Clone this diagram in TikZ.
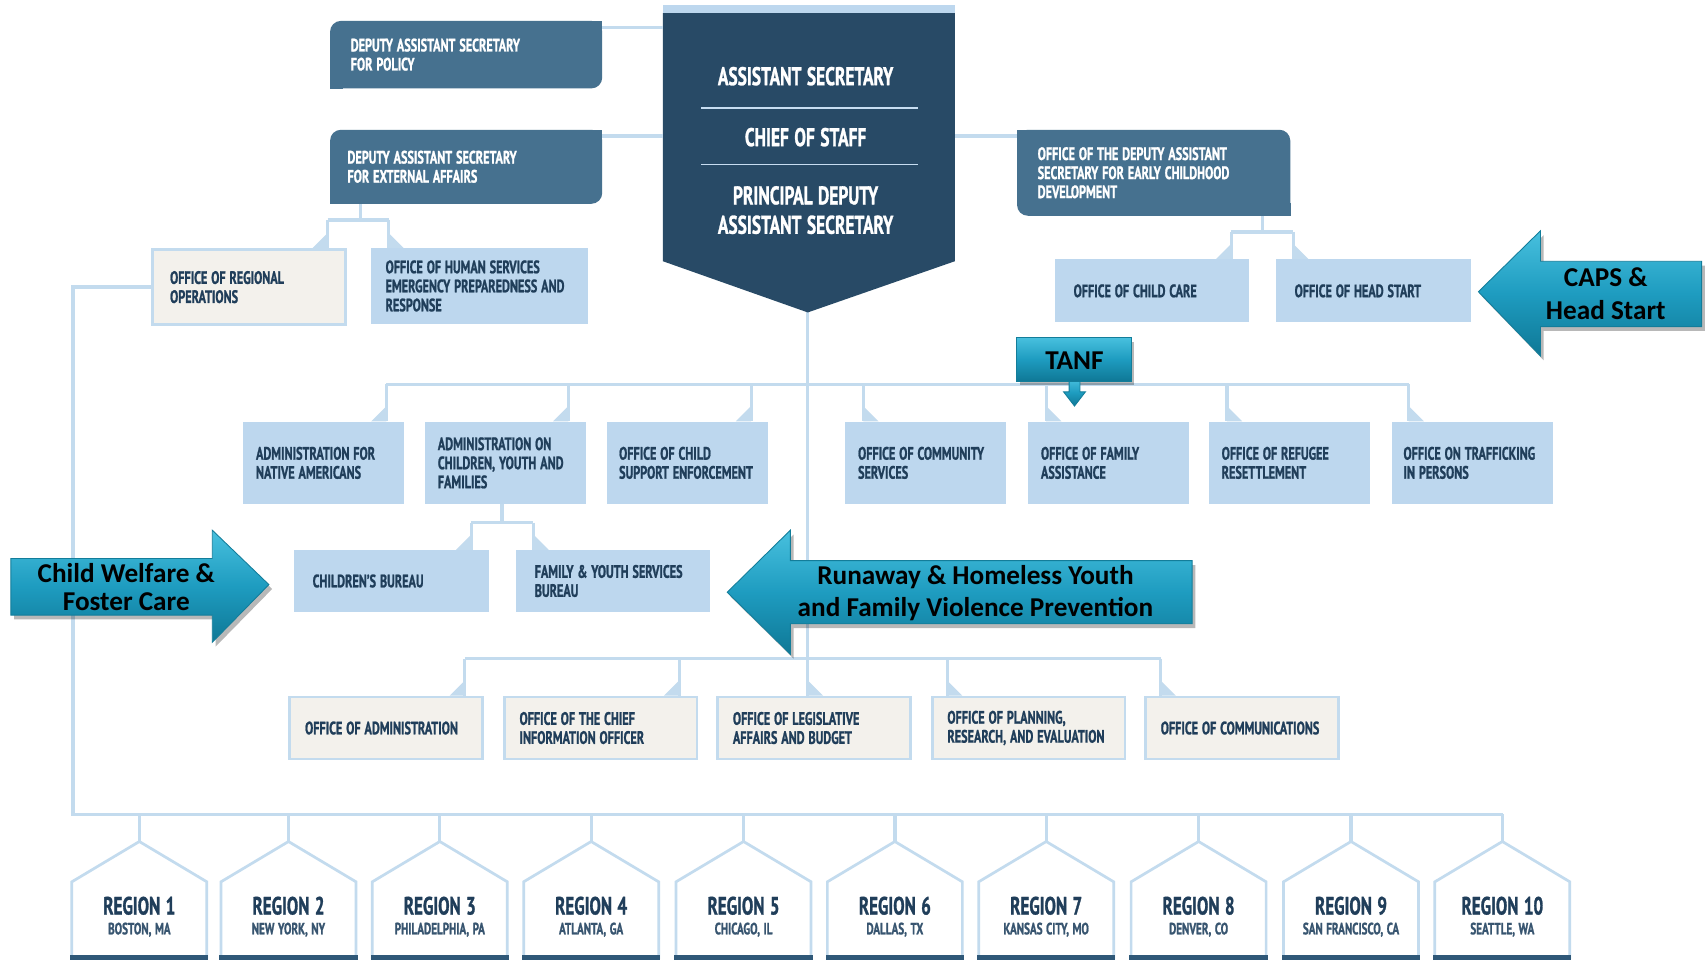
\documentclass[tikz,border=0pt]{standalone}
\usepackage{fontspec}
\setmainfont{Liberation Sans}
\newfontfamily\bb[FakeStretch=0.68, WordSpace=1.25, BoldFeatures={FakeBold=1.1}]{PT Sans}
\newfontfamily\cb{Carlito}
\usetikzlibrary{calc}
\definecolor{navy}{HTML}{284A66}
\definecolor{steel}{HTML}{46718F}
\definecolor{lb}{HTML}{BDD7EE}
\definecolor{cream}{HTML}{F3F1EC}
\definecolor{txt}{HTML}{203E5A}
\definecolor{ln}{HTML}{C3DBEE}
\definecolor{atop}{HTML}{48C0DE}
\definecolor{amid}{HTML}{1E9CC0}
\definecolor{abot}{HTML}{0F7896}
\definecolor{aedge}{HTML}{137D9A}
\definecolor{bar}{HTML}{2F5878}
\newcommand\tabdrop[4]{%
  \draw[conn] (#1,#2) -- (#1,0 |- #3.north);
  \fill[ln] (#1,0 |- #3.north) -- ++(0,-14) -- ++({#4*14},14) -- cycle;}
\begin{document}
\begin{tikzpicture}[x=1pt,y=-1pt,
  conn/.style={draw=ln, line width=3pt},
  box/.style={anchor=north west, inner ysep=0pt, inner xsep=14pt, align=flush left, text=txt, font=\bb\bfseries\fontsize{16.5}{17.5}\selectfont, execute at begin node={\spaceskip=0pt\xspaceskip=0pt\relax}},
  lbox/.style={box, fill=lb},
  cbox/.style={box, fill=cream, draw=ln, line width=2.5pt},
  dbox/.style={box, fill=steel, rounded corners=10pt, text=white},
  maintxt/.style={text=white, align=center, font=\bb\bfseries\fontsize{23.5}{27}\selectfont},
  sepline/.style={draw=lb!85!white, line width=1.5pt},
  house/.style={fill=white, draw=ln, line width=2.5pt},
  rtitle/.style={text=txt, font=\bb\bfseries\fontsize{23}{26}\selectfont},
  rcity/.style={text=txt!85!lb, font=\bb\bfseries\fontsize{15}{16}\selectfont},
  arrowbody/.style={top color=atop, bottom color=abot, middle color=amid, draw=aedge, line width=0.8pt},
  arrowshadow/.style={fill=black, opacity=0.28},
  atxt/.style={text=black, align=center, font=\cb\bfseries\fontsize{25}{28}\selectfont}
]
\fill[white] (0,0) rectangle (1568,882);
\useasboundingbox (0,0) rectangle (1568,882);

% ---------- main box ----------
\draw[conn] (742,280) -- (742,639);
\fill[lb] (609,5) rectangle (877,12);
\fill[navy] (609,12) -- (877,12) -- (877,240) -- (742,287) -- (609,240) -- cycle;
\node[inner sep=0, minimum width=268pt, minimum height=235pt, anchor=north west] (mainbox) at (609,5) {};
\coordinate (mainpt) at (742,287);
\node[maintxt] (as) at (740,70) {ASSISTANT SECRETARY};
\draw[sepline] (644,99) -- (843,99);
\node[maintxt] (cos) at (740,126) {CHIEF OF STAFF};
\draw[sepline] (644,151) -- (843,151);
\node[maintxt] (pdas) at (740,193) {PRINCIPAL DEPUTY\\ASSISTANT SECRETARY};

% ---------- deputy boxes ----------
\node[dbox, text width=212pt, minimum width=250pt, minimum height=62pt, inner xsep=19pt] (dasp) at (303,19) {DEPUTY ASSISTANT SECRETARY\\FOR POLICY};
\fill[steel] (dasp.north east) rectangle ++(-12,12);
\fill[steel] (dasp.south west) rectangle ++(12,-12);
\node[dbox, text width=218pt, minimum width=250pt, minimum height=68pt, inner xsep=16pt] (dase) at (303,119) {DEPUTY ASSISTANT SECRETARY\\FOR EXTERNAL AFFAIRS};
\fill[steel] (dase.north east) rectangle ++(-12,12);
\fill[steel] (dase.south west) rectangle ++(12,-12);
\node[dbox, text width=213pt, minimum width=251pt, minimum height=79pt, inner xsep=19pt] (odas) at (934,119) {OFFICE OF THE DEPUTY ASSISTANT\\SECRETARY FOR EARLY CHILDHOOD\\DEVELOPMENT};
\fill[steel] (odas.north west) rectangle ++(12,12);
\fill[steel] (odas.south east) rectangle ++(-12,-12);

\draw[conn] (dasp.east |- 0,25) -- (mainbox.west |- 0,25);
\draw[conn] (dase.east |- 0,125) -- (mainbox.west |- 0,125);
\draw[conn] (mainbox.east |- 0,125) -- (odas.west |- 0,125);

% ---------- first sub level ----------
\node[cbox, text width=145pt, minimum width=177pt, minimum height=69pt, inner xsep=16pt] (oro) at (139,228) {OFFICE OF REGIONAL\\OPERATIONS};
\node[lbox, text width=173pt, minimum width=199pt, minimum height=69pt, inner xsep=13pt] (ohsepr) at (341,228) {OFFICE OF HUMAN SERVICES\\EMERGENCY PREPAREDNESS AND\\RESPONSE};
\draw[conn] (331,0 |- dase.south) -- (331,202);
\draw[conn] (301,202) -- (357,202);
\tabdrop{301}{202}{oro}{-1}
\tabdrop{357}{202}{ohsepr}{1}

\node[lbox, text width=144pt, minimum width=178pt, minimum height=58pt, inner xsep=17pt] (occ) at (969,238) {OFFICE OF CHILD CARE};
\node[lbox, text width=145pt, minimum width=179pt, minimum height=58pt, inner xsep=17pt] (ohs) at (1172,238) {OFFICE OF HEAD START};
\draw[conn] (1160,0 |- odas.south) -- (1160,213);
\draw[conn] (1131,213) -- (1188,213);
\tabdrop{1131}{213}{occ}{-1}
\tabdrop{1188}{213}{ohs}{1}

% ---------- second row ----------
\draw[conn] (355,353) -- (1294,353);
\node[lbox, text width=124pt, minimum width=148pt, minimum height=76pt, inner xsep=12pt] (ana) at (223,387) {ADMINISTRATION FOR\\NATIVE AMERICANS};
\node[lbox, text width=124pt, minimum width=148pt, minimum height=76pt, inner xsep=12pt] (acyf) at (390,387) {ADMINISTRATION ON\\CHILDREN, YOUTH AND\\FAMILIES};
\node[lbox, text width=128pt, minimum width=148pt, minimum height=76pt, inner xsep=10pt] (ocse) at (557,387) {\hspace*{1.5pt}OFFICE OF CHILD\\\hspace*{1.5pt}SUPPORT ENFORCEMENT};
\node[lbox, text width=124pt, minimum width=148pt, minimum height=76pt, inner xsep=12pt] (ocs) at (776,387) {OFFICE OF COMMUNITY\\SERVICES};
\node[lbox, text width=124pt, minimum width=148pt, minimum height=76pt, inner xsep=12pt] (ofa) at (944,387) {OFFICE OF FAMILY\\ASSISTANCE};
\node[lbox, text width=124pt, minimum width=148pt, minimum height=76pt, inner xsep=12pt] (orr) at (1110,387) {OFFICE OF REFUGEE\\RESETTLEMENT};
\node[lbox, text width=126pt, minimum width=148pt, minimum height=76pt, inner xsep=11pt] (otip) at (1278,387) {OFFICE ON TRAFFICKING\\IN PERSONS};
\tabdrop{355}{353}{ana}{-1}
\tabdrop{522}{353}{acyf}{-1}
\tabdrop{690}{353}{ocse}{-1}
\tabdrop{793}{353}{ocs}{1}
\tabdrop{961}{353}{ofa}{1}
\tabdrop{1127}{353}{orr}{1}
\tabdrop{1294}{353}{otip}{1}

% ---------- ACYF bureaus ----------
\node[lbox, text width=145pt, minimum width=179pt, minimum height=57pt, inner xsep=17pt] (cb) at (270,505) {CHILDREN’S BUREAU};
\node[lbox, text width=144pt, minimum width=178pt, minimum height=57pt, inner xsep=17pt] (fysb) at (474,505) {FAMILY \& YOUTH SERVICES\\BUREAU};
\draw[conn] (461,0 |- acyf.south) -- (461,480);
\draw[conn] (433,480) -- (490,480);
\tabdrop{433}{480}{cb}{-1}
\tabdrop{490}{480}{fysb}{1}

% ---------- staff offices ----------
\draw[conn] (427,605) -- (1066,605);
\node[cbox, text width=149pt, minimum width=177pt, minimum height=57pt] (oa) at (265,639) {OFFICE OF ADMINISTRATION};
\node[cbox, text width=149pt, minimum width=177pt, minimum height=57pt] (ocio) at (462,639) {OFFICE OF THE CHIEF\\INFORMATION OFFICER};
\node[cbox, text width=149pt, minimum width=177pt, minimum height=57pt] (olab) at (658,639) {OFFICE OF LEGISLATIVE\\AFFAIRS AND BUDGET};
\node[cbox, text width=149pt, minimum width=177pt, minimum height=57pt] (opre) at (855,639) {OFFICE OF PLANNING,\\RESEARCH, AND EVALUATION};
\node[cbox, text width=149pt, minimum width=177pt, minimum height=57pt] (oc) at (1051,639) {OFFICE OF COMMUNICATIONS};
\tabdrop{427}{605}{oa}{-1}
\tabdrop{624}{605}{ocio}{-1}
\tabdrop{742}{605}{olab}{1}
\tabdrop{870}{605}{opre}{1}
\tabdrop{1066}{605}{oc}{1}

% ---------- regions ----------
\coordinate (bus) at (67,748);
\draw[conn] (oro.west) -- (67,0 |- oro.west) -- (bus) -- (1381,748);
\foreach \i/\c/\city in {1/128/{BOSTON, MA},2/265/{NEW YORK, NY},3/404/{PHILADELPHIA, PA},4/543/{ATLANTA, GA},5/683/{CHICAGO, IL},6/822/{DALLAS, TX},7/961/{KANSAS CITY, MO},8/1101/{DENVER, CO},9/1241/{SAN FRANCISCO, CA},10/1380/{SEATTLE, WA}}{
  \coordinate (h\i) at (\c,773);
  \draw[conn] (h\i |- bus) -- (h\i);
  \filldraw[house] (\c-62,881) -- (\c-62,810) -- (h\i) -- (\c+62,810) -- (\c+62,881);
  \fill[bar] (\c-63.5,877) rectangle (\c+63.5,882);
  \node[rtitle] (r\i) at (\c,832) {REGION \i};
  \node[rcity] (rc\i) at (\c,854) {\city};
}

% ---------- call-out arrows ----------
\begin{scope}[shift={(3,4)}]
\fill[arrowshadow] (10,513) -- (195,513) -- (195,487) -- (247,537) -- (195,590) -- (195,565) -- (10,565) -- cycle;
\fill[arrowshadow] (1095,515) -- (726,515) -- (726,487) -- (668,544) -- (726,601) -- (726,573) -- (1095,573) -- cycle;
\fill[arrowshadow] (1563,240) -- (1415,240) -- (1415,212) -- (1358,268) -- (1415,327) -- (1415,300) -- (1563,300) -- cycle;
\fill[arrowshadow] (934,310) rectangle (1039,350);
\end{scope}
\shade[arrowbody] (10,513) -- (195,513) -- (195,487) -- (247,537) -- (195,590) -- (195,565) -- (10,565) -- cycle;
\node[atxt] (cw) at (116,539) {Child Welfare \&\\[-2pt]Foster Care};
\shade[arrowbody] (1095,515) -- (726,515) -- (726,487) -- (668,544) -- (726,601) -- (726,573) -- (1095,573) -- cycle;
\node[atxt] (rhy) at (896,545) {Runaway \& Homeless Youth\\[1pt]and Family Violence Prevention};
\shade[arrowbody] (1563,240) -- (1415,240) -- (1415,212) -- (1358,268) -- (1415,327) -- (1415,300) -- (1563,300) -- cycle;
\node[atxt] (caps) at (1475,270) {CAPS \&\\[2pt]Head Start};
\shade[arrowbody] (982,348) -- (992,348) -- (992,360) -- (997,360) -- (987,373) -- (977,360) -- (982,360) -- cycle;
\shade[arrowbody] (934,310) rectangle (1039,350);
\node[atxt] (tanf) at (987,331) {TANF};
\end{tikzpicture}
\end{document}
